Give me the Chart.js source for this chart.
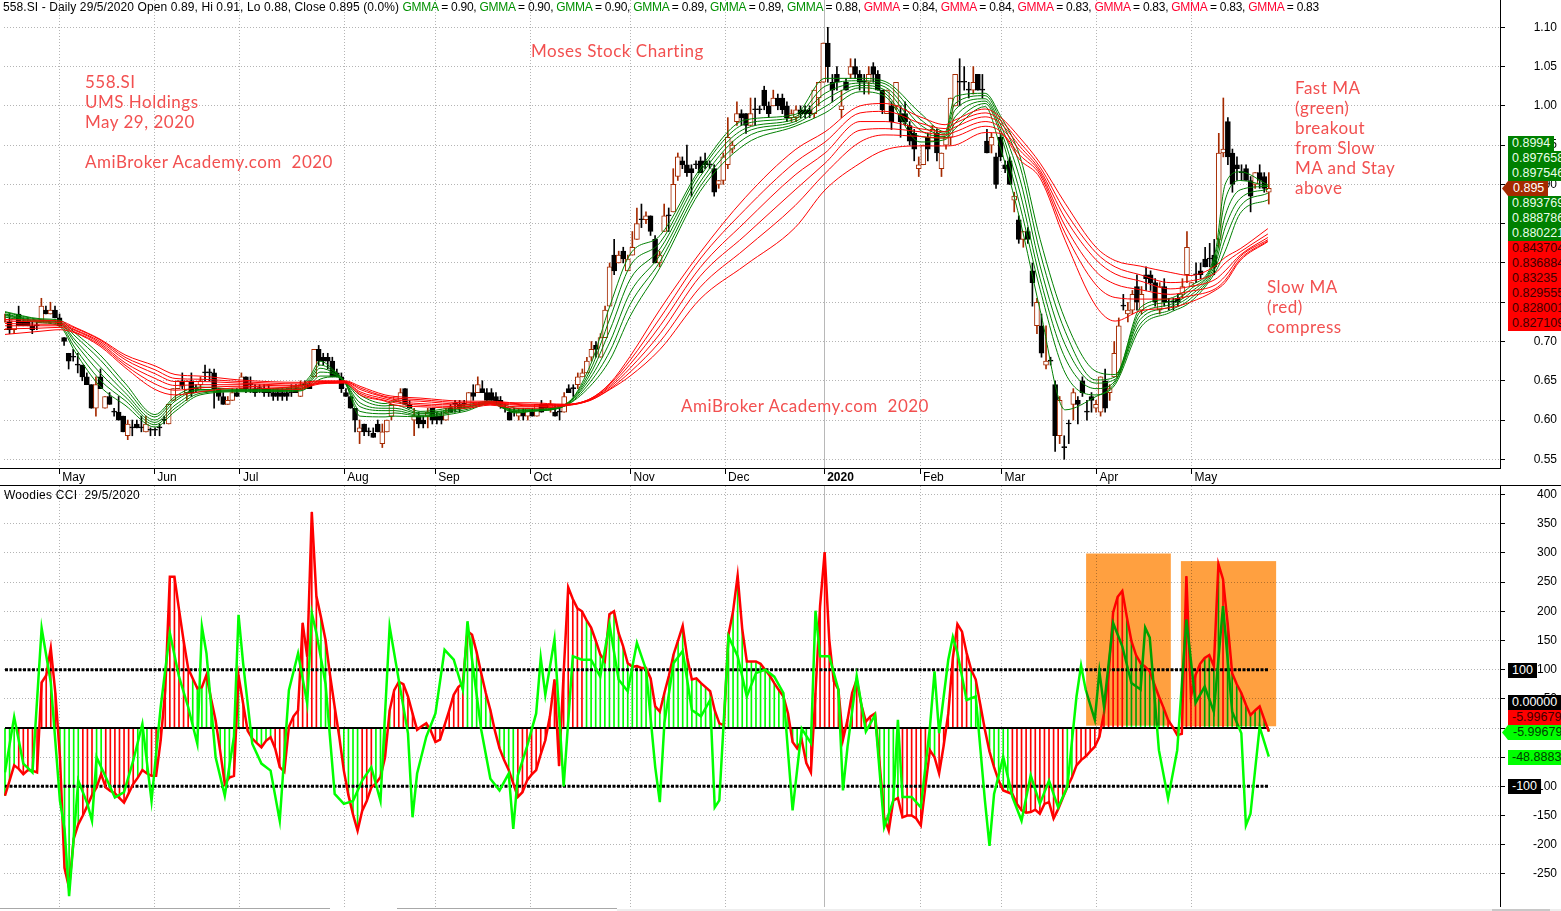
<!DOCTYPE html>
<html>
<head>
<meta charset="utf-8">
<title>558.SI GMMA and Woodies CCI</title>
<script src="https://cdn.jsdelivr.net/npm/chart.js@4"></script>
<style>
html, body { margin: 0; padding: 0; background: #fff; overflow: hidden; }
#page { position: relative; width: 1561px; height: 911px; overflow: hidden; font-family: "Liberation Sans", Arial, sans-serif; font-size: 12px; }
canvas { position: absolute; left: 0; display: block; }
#priceCanvas { top: 0; }
#cciCanvas { top: 486px; }
.abs { position: absolute; white-space: pre; }
#title { left: 3px; top: 0; line-height: 14px; color: #000; }
#cciTitle { left: 4px; top: 488px; line-height: 14px; color: #000; letter-spacing: .25px; }
.hand { color: #f25050; font-family: Lato, sans-serif; font-size: 17px; line-height: 20px; letter-spacing: .5px; }
.tag { height: 15px; line-height: 15px; padding: 0 4px; font-size: 12.5px; }
.line { position: absolute; background: #000; }
</style>
</head>
<body>
<div id="page">
  <canvas id="priceCanvas" width="1561" height="486"></canvas>
  <canvas id="cciCanvas" width="1561" height="421"></canvas>
  <div id="title" class="abs"></div>
  <div id="cciTitle" class="abs">Woodies CCI  29/5/2020</div>
  <div class="line" style="left:0;top:468px;width:1501px;height:1px"></div>
  <div class="line" style="left:0;top:485px;width:1561px;height:1px"></div>
  <div class="line" style="left:0;top:908px;width:330px;height:1px;background:#a8a8a8"></div>
  <div class="line" style="left:397px;top:908px;width:220px;height:1px;background:#a8a8a8"></div>
  <div class="line" style="left:617px;top:909px;width:944px;height:2px;background:#eee"></div>
  <div class="line" style="left:1492px;top:909px;width:58px;height:2px;background:#c8c8c8"></div>
</div>
<script>
// daily bars, each row is open, high, low, close
const apr19 = [
  [.715,.735,.715,.725],[.725,.735,.71,.715],[.715,.73,.71,.73],[.735,.745,.72,.72],[.725,.73,.72,.72],[.725,.73,.72,.72],
  [.72,.725,.71,.715],[.72,.725,.715,.72],[.725,.755,.725,.745],[.74,.745,.735,.735],[.735,.75,.735,.74],[.74,.745,.73,.73]];
const may19 = [
  [.73,.735,.72,.72],[.705,.705,.695,.70],[.685,.685,.665,.675],[.68,.69,.675,.68],[.67,.685,.66,.67],[.67,.67,.65,.655],
  [.655,.66,.645,.645],[.645,.645,.615,.615],[.615,.655,.605,.645],[.655,.665,.64,.64],[.615,.63,.615,.63],[.63,.635,.62,.62],
  [.61,.615,.605,.61],[.61,.63,.60,.60],[.605,.605,.585,.585],[.58,.60,.575,.595],[.59,.60,.58,.59],[.595,.60,.59,.59],
  [.59,.605,.585,.59],[.585,.605,.585,.595]];
const jun19 = [
  [.587,.59,.58,.587],[.587,.59,.58,.587],[.59,.595,.58,.59],[.60,.605,.595,.60],[.595,.62,.595,.62],[.625,.64,.625,.64],
  [.64,.65,.64,.65],[.65,.66,.64,.643],[.635,.65,.625,.65],[.65,.66,.63,.635],[.64,.645,.635,.64],[.645,.655,.64,.65],
  [.66,.67,.65,.66],[.66,.665,.65,.66],[.66,.665,.615,.64],[.64,.64,.625,.63],[.63,.635,.62,.62],[.62,.63,.62,.625],[.625,.64,.625,.635]];
const jul19 = [
  [.635,.64,.63,.63],[.64,.66,.64,.655],[.655,.655,.635,.64],[.645,.655,.635,.645],[.64,.645,.63,.635],[.64,.645,.635,.64],
  [.64,.645,.63,.635],[.64,.645,.63,.635],[.635,.64,.625,.63],[.635,.64,.625,.63],[.635,.64,.625,.63],[.635,.64,.625,.63],
  [.635,.645,.63,.635],[.64,.645,.635,.635],[.63,.65,.63,.645],[.645,.65,.64,.645],[.645,.65,.64,.64],[.655,.69,.655,.69],
  [.69,.695,.67,.675],[.68,.685,.67,.675],[.68,.685,.665,.675],[.675,.68,.655,.655],[.66,.665,.655,.655]];
const aug19 = [
  [.655,.66,.635,.64],[.635,.64,.63,.63],[.63,.63,.615,.615],[.615,.615,.585,.60],[.585,.60,.57,.59],[.595,.595,.58,.585],
  [.585,.59,.58,.585],[.583,.59,.578,.578],[.595,.60,.585,.585],[.57,.595,.565,.585],[.585,.60,.585,.60],[.605,.62,.60,.62],
  [.625,.63,.625,.63],[.625,.64,.625,.635],[.64,.64,.62,.62],[.62,.625,.615,.615],[.60,.615,.58,.605],[.605,.61,.59,.595],[.60,.605,.59,.595]];
const sep19 = [
  [.605,.615,.59,.61],[.615,.615,.595,.60],[.605,.61,.595,.60],[.605,.61,.595,.60],[.60,.615,.60,.61],[.615,.62,.61,.61],
  [.62,.625,.61,.62],[.62,.625,.61,.615],[.62,.625,.615,.62],[.62,.635,.62,.635],[.635,.645,.625,.63],[.635,.655,.635,.645],
  [.64,.65,.635,.635],[.635,.64,.625,.625],[.635,.64,.625,.625],[.63,.635,.62,.62],[.625,.63,.615,.62],[.615,.62,.61,.615],
  [.61,.615,.60,.60],[.61,.615,.605,.61],[.605,.615,.60,.61],[.61,.615,.60,.605]];
const oct19 = [
  [.605,.615,.60,.615],[.61,.615,.605,.605],[.605,.62,.605,.62],[.62,.625,.61,.61],[.62,.62,.615,.615],[.615,.625,.61,.62],
  [.61,.62,.605,.605],[.61,.615,.60,.61],[.61,.635,.61,.63],[.64,.645,.635,.635],[.64,.645,.63,.64],[.645,.66,.64,.655],
  [.655,.665,.655,.66],[.66,.68,.66,.675],[.68,.70,.675,.69],[.695,.70,.68,.69],[.68,.71,.68,.705],[.705,.745,.705,.74],
  [.745,.80,.745,.795],[.81,.83,.785,.79],[.80,.815,.80,.81],[.815,.82,.80,.805]];
const nov19 = [
  [.79,.81,.79,.805],[.81,.84,.81,.82],[.83,.87,.83,.85],[.855,.875,.845,.855],[.855,.865,.85,.86],[.86,.86,.835,.84],
  [.83,.835,.80,.80],[.80,.815,.795,.81],[.84,.875,.84,.86],[.86,.87,.84,.86],[.865,.92,.865,.90],[.91,.94,.905,.935],
  [.93,.935,.92,.925],[.925,.95,.91,.915],[.92,.925,.885,.915],[.925,.93,.92,.925],[.93,.935,.915,.915],[.93,.94,.92,.925],
  [.925,.93,.92,.925],[.92,.925,.885,.89],[.90,.905,.895,.905]];
const dec19 = [
  [.905,.94,.90,.935],[.925,.985,.92,.96],[.945,.955,.94,.95],[.98,1.005,.975,.99],[.99,.995,.975,.985],[.99,.99,.965,.975],
  [.975,1.01,.975,.99],[.995,1.01,.975,.995],[.995,1.0,.99,.995],[1.02,1.025,.995,1.0],[1.0,1.005,.985,.99],[1.0,1.02,1.0,1.01],
  [1.01,1.015,.995,1.0],[1.01,1.015,.99,.995],[1.0,1.005,.98,.985],[.985,.995,.98,.99],[.985,1.0,.98,.995],[.995,1.0,.985,.99],
  [.995,1.0,.985,.99],[.995,1.0,.985,.99],[.99,1.02,.985,1.02],[1.01,1.03,1.0,1.03]];
const jan20 = [
  [1.03,1.08,1.03,1.08],[1.08,1.10,1.03,1.05],[1.03,1.04,1.005,1.02],[1.04,1.05,1.02,1.03],[.995,1.02,.985,1.0],[1.03,1.035,1.02,1.02],
  [1.04,1.06,1.035,1.05],[1.05,1.06,1.035,1.04],[1.04,1.045,1.02,1.03],[1.03,1.04,1.015,1.03],[1.03,1.05,1.015,1.04],[1.05,1.055,1.03,1.04],
  [1.04,1.045,1.02,1.02],[1.02,1.02,.99,.995],[.99,1.02,.99,1.02],[1.0,1.005,.97,.98],[1.0,1.03,.995,1.03],[.99,1.0,.96,.98],
  [.99,1.005,.975,.98],[.975,.98,.95,.955],[.965,.97,.93,.945]];
const feb20 = [
  [.92,.935,.91,.925],[.925,.95,.925,.95],[.96,.965,.93,.945],[.955,.975,.955,.97],[.965,.97,.93,.94],[.92,.94,.91,.94],
  [.95,.96,.945,.96],[.96,1.01,.95,1.01],[1.0,1.04,1.0,1.04],[1.03,1.06,1.0,1.03],[1.03,1.05,1.02,1.03],[1.02,1.03,1.01,1.02],
  [1.02,1.05,1.015,1.03],[1.04,1.04,1.02,1.02],[1.02,1.04,1.01,1.02],[.955,.97,.94,.94],[.95,.965,.94,.96],[.935,.94,.895,.90]];
const mar20 = [
  [.96,.965,.93,.935],[.925,.93,.915,.92],[.93,.935,.90,.90],[.88,.89,.865,.885],[.855,.86,.825,.83],[.83,.84,.82,.84],
  [.84,.845,.825,.83],[.79,.80,.745,.775],[.72,.755,.71,.75],[.72,.735,.68,.685],[.67,.72,.665,.675],[.675,.68,.67,.675],
  [.645,.65,.56,.58],[.58,.63,.57,.625],[.565,.58,.55,.565],[.595,.60,.57,.595],[.62,.64,.60,.635],[.625,.63,.595,.62],
  [.65,.655,.63,.635],[.61,.625,.60,.61],[.63,.635,.61,.625]];
const apr20 = [
  [.615,.625,.61,.62],[.61,.655,.605,.655],[.65,.665,.61,.615],[.635,.645,.625,.64],[.655,.70,.655,.685],[.66,.73,.66,.72],
  [.745,.76,.74,.745],[.735,.75,.725,.74],[.74,.765,.735,.76],[.77,.785,.74,.75],[.74,.77,.735,.76],[.785,.795,.765,.78],
  [.785,.79,.765,.775],[.775,.78,.745,.75],[.74,.775,.735,.77],[.77,.78,.745,.75],[.75,.755,.74,.75],[.75,.755,.74,.75],
  [.755,.76,.745,.75],[.76,.78,.755,.77]];
const may20 = [
  [.785,.84,.775,.82],[.77,.775,.77,.775],[.785,.80,.775,.785],[.79,.80,.78,.785],[.805,.82,.795,.795],[.805,.825,.795,.805],
  [.81,.83,.785,.795],[.83,.965,.82,.94],[.94,1.01,.935,.945],[.98,.985,.925,.935],[.94,.945,.89,.90],[.925,.935,.905,.92],
  [.915,.925,.905,.915],[.92,.925,.905,.905],[.905,.91,.865,.885],[.90,.915,.895,.915],[.915,.925,.895,.905],[.91,.915,.89,.895],[.89,.915,.875,.895]];

const gmmaBars = [0,7.7,12.1,15.4,20.9,26.4,33,37.4,42.9,51.7,64.9,67.1,69.3,72.6,74.8,78.1,83.6,85.8,91.3,101.2,106.7,112.4,115.5,123.2,128.7,133.1,137.5,144.1,152.9,162.8,173.8,180.4,188.1,193.6,201.3,206.8,209,215.6,218.9,223.3,227.7,233.2,240,244.2,249.7,256.3,260.7,266.2,268.4,271.7,277.8];
const gmmaGreen = [
  [.738,.737,.735,.734,.733,.731],[.729,.728,.727,.726,.725,.724],[.727,.725,.724,.723,.721,.719],[.711,.707,.702,.698,.692,.687],
  [.683,.677,.668,.66,.651,.643],[.647,.641,.635,.63,.625,.619],[.607,.604,.60,.597,.594,.591],[.63,.627,.624,.619,.615,.611],
  [.642,.639,.638,.636,.634,.632],[.639,.638,.638,.637,.637,.636],[.644,.642,.64,.639,.638,.637],[.656,.653,.65,.648,.645,.643],
  [.675,.67,.666,.661,.656,.652],[.662,.661,.659,.658,.656,.655],[.649,.649,.648,.648,.647,.647],[.632,.628,.622,.617,.611,.605],
  [.621,.618,.615,.612,.608,.604],[.624,.619,.615,.612,.609,.605],[.611,.609,.608,.606,.605,.604],[.619,.617,.616,.615,.613,.611],
  [.624,.623,.622,.622,.621,.621],[.615,.613,.612,.611,.61,.609],[.614,.613,.612,.612,.611,.611],[.62,.62,.619,.619,.618,.618],
  [.669,.663,.658,.653,.648,.643],[.746,.73,.715,.70,.688,.677],[.811,.796,.779,.762,.747,.732],[.835,.826,.818,.81,.802,.794],
  [.92,.916,.91,.903,.897,.891],[.982,.977,.971,.966,.959,.951],[.989,.986,.983,.98,.977,.974],[1.035,1.025,1.016,1.008,.999,.991],
  [1.035,1.032,1.029,1.026,1.023,1.018],[1.031,1.028,1.024,1.02,1.016,1.012],[.991,.983,.976,.969,.961,.954],[.967,.965,.963,.961,.959,.957],
  [1.012,1.003,.995,.986,.978,.971],[1.016,1.013,1.009,1.006,1.003,.999],[.988,.983,.977,.971,.965,.948],[.935,.923,.906,.889,.872,.854],
  [.83,.813,.796,.78,.766,.74],[.728,.713,.696,.679,.66,.613],[.662,.651,.647,.64,.632,.63],[.658,.655,.652,.65,.648,.645],
  [.743,.738,.733,.728,.722,.717],[.755,.751,.747,.744,.74,.737],[.77,.766,.762,.758,.754,.75],[.813,.808,.803,.798,.793,.788],
  [.90,.88,.86,.845,.83,.815],[.916,.905,.893,.882,.872,.863],[.8994,.8977,.8975,.8938,.8888,.8802]];
const gmmaRed = [
  [.728,.726,.723,.72,.716,.709],[.727,.725,.722,.72,.717,.713],[.726,.724,.722,.72,.718,.715],[.718,.717,.715,.714,.712,.711],
  [.703,.702,.70,.698,.696,.694],[.683,.68,.677,.673,.67,.667],[.669,.664,.659,.653,.646,.639],[.658,.653,.649,.644,.638,.632],
  [.656,.652,.649,.645,.641,.636],[.651,.649,.647,.645,.643,.641],[.648,.646,.644,.643,.641,.639],[.649,.648,.646,.645,.644,.643],
  [.65,.649,.648,.647,.647,.646],[.65,.649,.648,.648,.647,.647],[.65,.649,.649,.648,.648,.647],[.643,.641,.639,.636,.634,.632],
  [.632,.63,.629,.627,.625,.624],[.63,.628,.626,.624,.622,.619],[.628,.626,.624,.621,.619,.617],[.624,.622,.62,.619,.617,.615],
  [.624,.623,.622,.621,.62,.619],[.622,.621,.62,.619,.617,.615],[.622,.62,.619,.618,.617,.615],[.62,.62,.619,.619,.619,.618],
  [.627,.627,.626,.626,.625,.625],[.647,.646,.644,.642,.64,.639],[.681,.676,.671,.666,.661,.656],[.741,.73,.72,.71,.70,.69],
  [.813,.805,.794,.783,.769,.754],[.883,.868,.852,.835,.818,.797],[.944,.928,.912,.893,.873,.845],[.967,.954,.94,.927,.914,.893],
  [1.0,.991,.98,.969,.954,.927],[1.003,.993,.98,.971,.963,.944],[.986,.978,.971,.967,.961,.949],[.976,.971,.967,.963,.959,.949],
  [.982,.978,.973,.967,.961,.95],[.996,.991,.986,.98,.974,.966],[.986,.982,.978,.973,.968,.965],[.959,.953,.948,.943,.937,.931],
  [.927,.922,.918,.915,.912,.908],[.876,.866,.857,.847,.838,.829],[.82,.813,.804,.789,.772,.745],[.803,.795,.786,.773,.756,.726],
  [.796,.785,.777,.766,.754,.739],[.788,.775,.767,.76,.754,.743],[.784,.777,.77,.764,.758,.75],[.796,.787,.779,.772,.767,.765],
  [.807,.80,.79,.783,.778,.775],[.818,.814,.81,.808,.805,.803],[.8437,.8369,.8324,.8296,.828,.8271]];

// cci read at even bars, then the odd bars
const cciEven = [
  -116,-64,-79,-73,78,137,-50,-274,-165,-133,
  -102,-102,-112,-128,-96,-72,-82,-21,259,203,
  102,68,91,13,-96,-82,42,-18,-33,-16,
  -67,2,30,122,226,151,36,-73,-148,-142,
  -102,-84,30,79,54,-3,8,-24,5,57,
  77,160,94,31,-35,-72,-118,-90,-72,-21,
  83,94,221,200,172,126,195,163,111,106,
  103,37,60,126,175,83,77,63,8,160,
  261,114,114,100,77,54,-24,-21,-76,209,
  152,66,14,83,11,25,-153,-124,-153,-150,
  -167,-38,-78,25,178,129,83,-3,-67,-107,
  -113,-141,-144,-147,-127,-139,-101,-64,-49,-32,
  25,198,235,149,111,97,54,14,-12,260,
  91,120,106,255,94,60,22,37,-6];
const cciOdd = [
  -90,-70,-72,-76,90,60,-240,-190,-150,-115,
  -79,-108,-120,-112,-85,-78,-82,65,259,150,
  85,70,50,-40,-85,90,-5,-26,-22,-35,
  -75,20,180,370,190,90,-15,-115,-176,-125,
  -95,-50,65,75,25,3,-5,-20,30,70,
  166,130,60,-5,-55,-95,-110,-80,-45,20,
  -65,241,205,185,150,115,200,140,105,103,
  85,28,90,150,120,85,70,30,5,200,
  170,114,110,90,65,25,-35,-60,60,301,
  80,-20,60,40,20,-60,-176,-120,-150,-155,
  -100,-50,-30,120,165,100,40,-40,-90,-110,
  -130,-145,-140,-130,-155,-120,-85,-55,-40,-15,
  90,225,190,125,105,75,35,2,-10,54,
  110,125,281,180,75,40,30,15];

// turbo cci at even bars, plus the spikes between them
const turboEven = [
  -76,19,-61,-76,171,78,-125,-288,-90,-130,
  -50,-84,-119,-110,-56,7,-125,36,163,88,
  36,-27,128,-50,-116,-15,111,-27,-61,-73,
  -159,65,128,42,163,76,-113,-130,-125,-90,
  -67,-125,174,82,-9,-78,-15,25,134,117,
  65,117,-3,-87,-107,-78,-81,-32,25,57,
  152,-100,123,117,117,88,178,83,63,146,
  100,-67,8,111,132,31,20,48,-124,157,
  123,54,94,100,88,60,-141,-1,-26,123,
  123,66,-32,89,-6,22,-170,-124,-118,-118,
  -136,2,-9,117,129,48,54,-124,-113,-49,
  -118,-159,-81,-130,-90,-136,-101,54,66,14,
  37,180,140,77,66,155,-38,-121,-38,186,
  43,71,28,209,28,-9,-147,2,-49];
const turboSpikeBars = [13,19,43,51,67,89,101,111,117,143,155,177,183,195,203,207,215,235,239,249,271];
const turboSpikeVals = [-173,-159,174,194,197,-153,183,-173,120,-127,-136,201,-107,14,97,156,-202,107,97,172,-167];
const stemGreenFrom = [0,12,20,29,41,53,69,73,81,91,101,127,174,191,202,211,232,245,262,267];
const stemGreenTo = [2,16,21,31,51,58,70,77,84,93,111,173,175,195,203,219,233,253,265,276];
const cciLevels = [100,0,-100];

const priceTicks = [.55,.60,.65,.70,.75,.80,.85,.90,.95,1.0,1.05,1.10];
const cciTicks = [-250,-200,-150,-100,-50,0,50,100,150,200,250,300,350,400];
const monthLabels = ['May','Jun','Jul','Aug','Sep','Oct','Nov','Dec','2020','Feb','Mar','Apr','May'];
const priceMonthBars = [11.94,32.84,51.69,74.64,94.65,115.6,137.6,158.4,180.2,201.3,219.2,240.1,261];
const cciMonthBars = [11.9,32.6,51.3,74.1,94,114.7,136.6,157.3,179,199.9,217.6,238.4,259.1];
const boxBarFrom = [236.1,256.8];
const boxBarTo = [254.6,277.6];
const boxTop = [299,286];
const boxBottom = [4,3];

const gmmaTitleValues = ['0.90','0.90','0.90','0.89','0.89','0.88','0.84','0.84','0.83','0.83','0.83','0.83'];
const priceTags = ['0.8994','0.897658','0.897546','0.895','0.893769','0.888786','0.880221','0.843704','0.836884','0.83235','0.829555','0.828001','0.827109'];

const brown = '#a52a00';
const bars = [].concat(apr19,may19,jun19,jul19,aug19,sep19,oct19,nov19,dec19,jan20,feb20,mar20,apr20,may20);
const isUp = bars.map(b => b[3] > b[0]);
const gridGray = '#b4b4b4';

function gmmaDatasets(rows, color) {
    const out = [];
    for (let k = 0; k < 6; k++) {
        out.push({
            type: 'line',
            data: gmmaBars.map((b, i) => ({x: b, y: rows[i][k]})),
            borderColor: color,
            borderWidth: 1,
            pointRadius: 0,
            cubicInterpolationMode: 'monotone',
            order: 1
        });
    }
    return out;
}

function xAxis(min, max, tickBars, showLabels) {
    return {
        type: 'linear',
        min: min,
        max: max,
        offset: false,
        afterBuildTicks: s => { s.ticks = tickBars.map(v => ({value: v})); },
        afterFit: s => {
            s.height = showLabels ? 18 : 0;
            s.paddingLeft = 0;
            s.paddingRight = 0;
        },
        grid: {
            offset: false,
            color: ctx => monthLabels[ctx.index] === '2020' ? '#b8b8b8' : gridGray,
            drawTicks: showLabels,
            tickLength: 6,
            tickColor: '#000',
            tickBorderDash: []
        },
        border: {display: false, dash: ctx => monthLabels[ctx.index] === '2020' ? [] : [1,2]},
        ticks: {
            display: showLabels,
            autoSkip: false,
            maxRotation: 0,
            align: 'start',
            labelOffset: 3,
            padding: -4,
            color: '#000',
            font: ctx => ({family: 'Liberation Sans', size: 12, weight: monthLabels[ctx.index] === '2020' ? 'bold' : 'normal'}),
            callback: (v, i) => monthLabels[i]
        }
    };
}

function yAxis(min, max, tickValues, fmt) {
    return {
        type: 'linear',
        position: 'right',
        min: min,
        max: max,
        afterBuildTicks: s => { s.ticks = tickValues.map(v => ({value: v})); },
        afterFit: s => {
            s.width = 57;
            s.paddingTop = 0;
            s.paddingBottom = 0;
        },
        grid: {color: gridGray, tickColor: '#000', tickLength: 5, tickBorderDash: []},
        border: {display: true, color: '#000', width: 1, dash: [1,2]},
        ticks: {
            autoSkip: false,
            crossAlign: 'far',
            color: '#000',
            font: {family: 'Liberation Sans', size: 12},
            callback: fmt
        }
    };
}

const baseOptions = {
    responsive: false,
    animation: false,
    devicePixelRatio: 1,
    layout: {padding: {left: 4, right: 4, top: 0, bottom: 0}},
    plugins: {legend: {display: false}, tooltip: {enabled: false}, title: {display: false}}
};

new Chart(document.getElementById('priceCanvas'), {
    type: 'bar',
    data: {
        datasets: [
            {
                data: bars.map((b, i) => ({x: i, y: [b[2], b[1]]})),
                backgroundColor: isUp.map(u => u ? brown : '#000'),
                barThickness: 1,
                grouped: false,
                order: 3
            },
            {
                data: bars.map((b, i) => ({x: i, y: [Math.min(b[0], b[3]), Math.max(b[0], b[3])]})),
                backgroundColor: isUp.map(u => u ? '#fff' : '#000'),
                borderColor: isUp.map(u => u ? brown : '#000'),
                borderWidth: 1,
                borderSkipped: false,
                barThickness: 5,
                minBarLength: 1,
                grouped: false,
                order: 2
            }
        ].concat(gmmaDatasets(gmmaRed, '#ff0000'), gmmaDatasets(gmmaGreen, '#008000'))
    },
    options: Object.assign({}, baseOptions, {
        scales: {
            x: xAxis(-0.22, 328.86, priceMonthBars, true),
            y: yAxis(0.53896, 1.13475, priceTicks, v => v.toFixed(2))
        }
    })
});

// red cci has a value on every bar
const cciLine = [];
cciEven.forEach((v, i) => {
    cciLine.push({x: i * 2, y: v});
    if (i < cciOdd.length) cciLine.push({x: i * 2 + 1, y: cciOdd[i]});
});
const turboLine = turboEven.map((v, i) => ({x: i * 2, y: v}))
    .concat(turboSpikeBars.map((b, i) => ({x: b, y: turboSpikeVals[i]})))
    .sort((a, b) => a.x - b.x);
const stemColors = cciLine.map(p => stemGreenFrom.some((f, i) => p.x >= f && p.x <= stemGreenTo[i]) ? '#00ff00' : '#ff0000');

// orange highlight boxes, multiplied so the lines under them darken like the original
const highlightBoxes = {
    id: 'highlightBoxes',
    afterDatasetsDraw(chart) {
        const ctx = chart.ctx, x = chart.scales.x, y = chart.scales.y;
        ctx.save();
        ctx.globalCompositeOperation = 'multiply';
        ctx.fillStyle = '#ffa040';
        boxBarFrom.forEach((f, i) => {
            const left = x.getPixelForValue(f), top = y.getPixelForValue(boxTop[i]);
            ctx.fillRect(left, top, x.getPixelForValue(boxBarTo[i]) - left, y.getPixelForValue(boxBottom[i]) - top);
        });
        ctx.restore();
    }
};

new Chart(document.getElementById('cciCanvas'), {
    type: 'bar',
    data: {
        datasets: [
            {
                data: cciLine,
                backgroundColor: stemColors,
                barThickness: 1,
                grouped: false,
                order: 5
            },
            {
                type: 'line',
                data: cciLine,
                borderColor: '#ff0000',
                borderWidth: 2.5,
                pointRadius: 0,
                order: 2
            },
            {
                type: 'line',
                data: turboLine,
                borderColor: '#00ff00',
                borderWidth: 2.5,
                pointRadius: 0,
                order: 1
            }
        ].concat(cciLevels.map(v => ({
            type: 'line',
            data: [{x: 0, y: v}, {x: 276, y: v}],
            borderColor: '#000',
            borderWidth: v === 0 ? 2 : 3,
            borderDash: v === 0 ? [] : [3, 1.5],
            pointRadius: 0,
            order: 3
        })))
    },
    options: Object.assign({}, baseOptions, {
        scales: {
            x: xAxis(-0.218, 326.49, cciMonthBars, false),
            y: yAxis(-306.7, 414.7, cciTicks, v => String(v))
        }
    }),
    plugins: [highlightBoxes]
});

// title line, tags and notes are plain text on top of the canvases
const page = document.getElementById('page');
const titleEl = document.getElementById('title');
const titleHead = document.createElement('span');
titleHead.textContent = '558.SI - Daily 29/5/2020 Open 0.89, Hi 0.91, Lo 0.88, Close 0.895 (0.0%) ';
titleHead.style.letterSpacing = '.1px';
titleEl.append(titleHead);
gmmaTitleValues.forEach((v, i) => {
    const s = document.createElement('span');
    s.textContent = 'GMMA';
    s.style.color = i < 6 ? '#009000' : '#ff0030';
    const rest = document.createElement('span');
    rest.textContent = ' = ' + v + (i < 11 ? ', ' : '');
    s.style.letterSpacing = rest.style.letterSpacing = '-.27px';
    titleEl.append(s, rest);
});

function addTag(text, left, top, bg, fg, arrow) {
    const d = document.createElement('div');
    d.className = 'abs tag';
    d.textContent = text;
    d.style.left = left + 'px';
    d.style.top = top + 'px';
    d.style.background = bg;
    d.style.color = fg;
    if (arrow) {
        d.style.paddingLeft = '11px';
        d.style.clipPath = 'polygon(0 50%, 6px 0, 100% 0, 100% 100%, 6px 100%)';
    }
    page.appendChild(d);
}

priceTags.forEach((t, i) => {
    const top = 136 + i * 15;
    if (i === 3) addTag(t, 1502, top, brown, '#fff', true);
    else if (i < 7) addTag(t, 1508, top, '#008000', '#eaffea');
    else addTag(t, 1508, top, '#ff0000', '#400000');
});
addTag('100', 1508, 663, '#000', '#fff');
addTag('0.00000', 1508, 695, '#000', '#fff');
addTag('-5.99679', 1508, 710, '#ff0000', '#400000');
addTag('-5.99679', 1502, 725, '#00ff00', '#004000', true);
addTag('-48.8883', 1508, 750, '#00ff00', '#004000');
addTag('-100', 1508, 779, '#000', '#fff');

const notes = [
    ['558.SI', 85, 72], ['UMS Holdings', 85, 92], ['May 29, 2020', 85, 112], ['AmiBroker Academy.com  2020', 85, 152],
    ['Moses Stock Charting', 531, 41], ['AmiBroker Academy.com  2020', 681, 396],
    ['Fast MA', 1295, 78], ['(green)', 1295, 98], ['breakout', 1295, 118], ['from Slow', 1295, 138], ['MA and Stay', 1295, 158], ['above', 1295, 178],
    ['Slow MA', 1267, 277], ['(red)', 1267, 297], ['compress', 1267, 317]
];
notes.forEach(n => {
    const d = document.createElement('div');
    d.className = 'abs hand';
    d.textContent = n[0];
    d.style.left = n[1] + 'px';
    d.style.top = n[2] + 'px';
    page.appendChild(d);
});
</script>
</body>
</html>
